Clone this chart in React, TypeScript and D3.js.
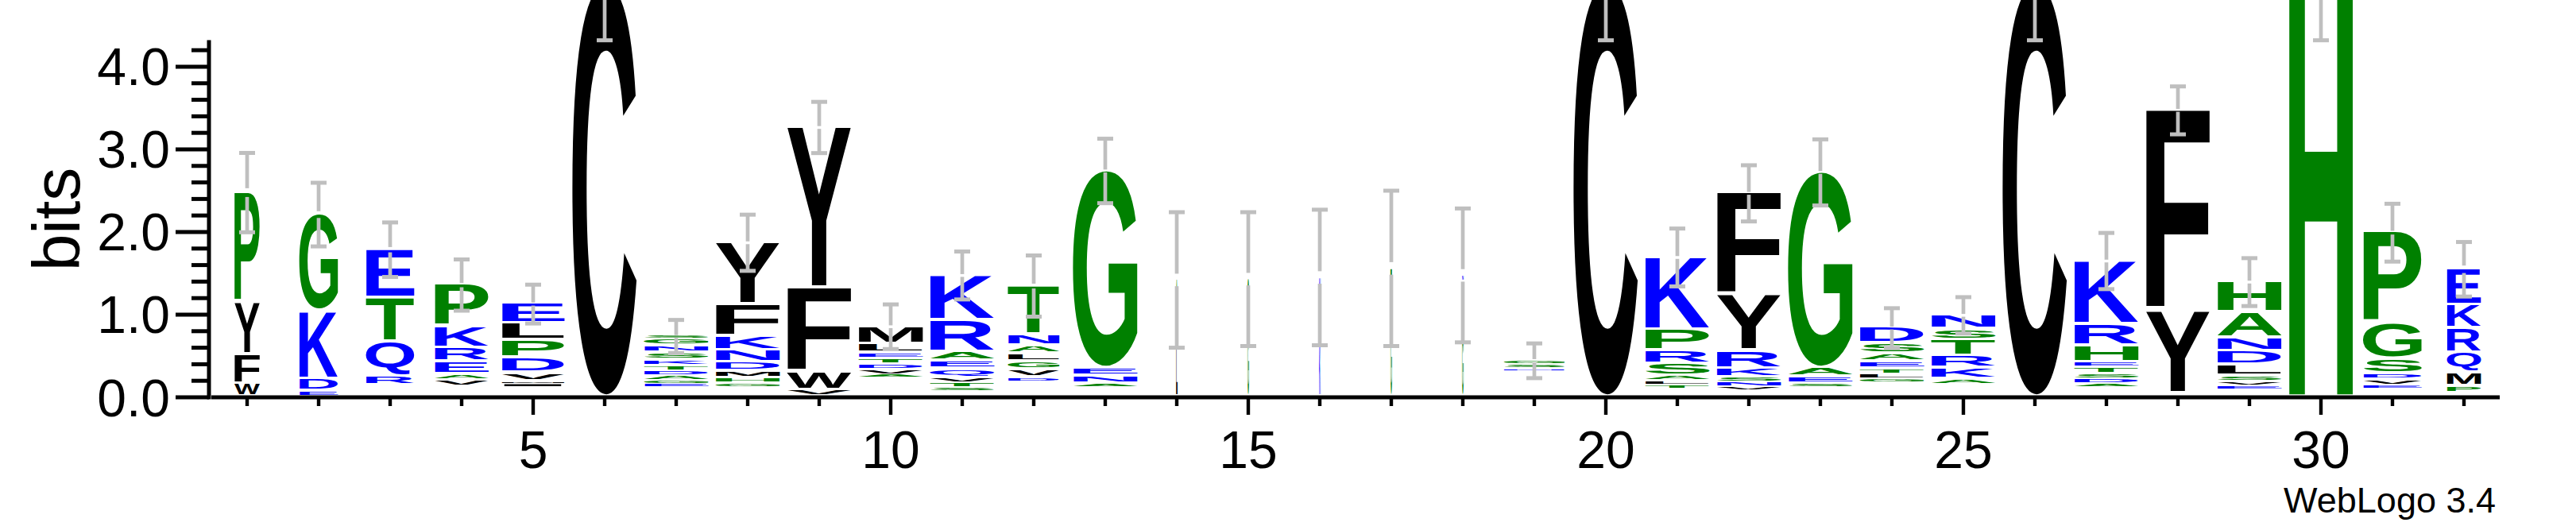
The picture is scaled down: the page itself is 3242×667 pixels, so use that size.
import React, { useMemo } from 'react';
import * as d3 from 'd3';

// Sequence positions 1..32
const positions = [1,2,3,4,5,6,7,8,9,10,11,12,13,14,15,16,17,18,19,20,21,22,23,24,25,26,27,28,29,30,31,32];

// Letters of each stack, bottom to top
const stackLetters: string[][] = [
  ['W','F','Y','P'],
  ['E','D','K','G'],
  ['R','Q','T','E'],
  ['V','A','E','R','K','P'],
  ['I','M','V','D','P','L','E'],
  ['C'],
  ['E','G','A','D','T','K','S','N','G','S'],
  ['G','H','M','D','N','K','F','Y'],
  ['V','W','F','Y'],
  ['A','V','D','T','E','L','M'],
  ['S','T','V','Q','E','A','R','K'],
  ['D','V','G','L','A','N','T'],
  ['A','N','E','G'],
  ['L','A'],
  ['G','S'],
  ['K','N'],
  ['G','T'],
  ['G','S','N'],
  ['N','S','G'],
  ['C'],
  ['T','L','A','S','R','P','K'],
  ['V','N','S','K','R','Y','F'],
  ['S','E','A','G'],
  ['G','L','T','E','A','S','D'],
  ['A','K','R','T','S','N'],
  ['C'],
  ['A','D','S','T','E','H','R','K'],
  ['Y','F'],
  ['E','V','S','L','D','N','A','H'],
  ['H'],
  ['E','V','D','S','G','P'],
  ['P','M','Q','R','K','E'],
];

// Height (bits) of each letter, bottom to top
const stackBits: number[][] = [
  [0.154, 0.356, 0.628, 1.339],
  [0.067, 0.151, 0.823, 1.17],
  [0.11, 0.413, 0.53, 0.593],
  [0.081, 0.07, 0.151, 0.17, 0.262, 0.503],
  [0.043, 0.029, 0.101, 0.186, 0.209, 0.205, 0.24],
  [5.0],
  [0.038, 0.038, 0.064, 0.054, 0.064, 0.074, 0.08, 0.087, 0.089, 0.033],
  [0.051, 0.058, 0.09, 0.102, 0.144, 0.17, 0.385, 0.755],
  [0.08, 0.218, 1.022, 1.945],
  [0.032, 0.064, 0.064, 0.063, 0.074, 0.112, 0.214],
  [0.036, 0.063, 0.067, 0.103, 0.096, 0.113, 0.378, 0.551],
  [0.051, 0.096, 0.093, 0.099, 0.093, 0.135, 0.596],
  [0.038, 0.096, 0.096, 2.394],
  [0.95, 0.47],
  [0.8, 0.63],
  [0.7, 0.75],
  [0.9, 0.66],
  [0.75, 0.635, 0.09],
  [0.029, 0.048, 0.055],
  [5.0],
  [0.045, 0.051, 0.064, 0.144, 0.154, 0.253, 0.885],
  [0.04, 0.054, 0.058, 0.11, 0.212, 0.669, 1.243],
  [0.045, 0.08, 0.106, 2.375],
  [0.046, 0.058, 0.064, 0.089, 0.093, 0.128, 0.192],
  [0.07, 0.138, 0.144, 0.192, 0.128, 0.176],
  [5.0],
  [0.045, 0.054, 0.058, 0.081, 0.063, 0.199, 0.26, 0.774],
  [0.992, 2.436],
  [0.032, 0.048, 0.074, 0.135, 0.166, 0.163, 0.312, 0.368],
  [5.0],
  [0.038, 0.074, 0.07, 0.18, 0.429, 1.105],
  [0.089, 0.161, 0.24, 0.295, 0.282, 0.442],
];

// Bits at which each stack starts
const stackBase = [0, 0, 0.14, 0.121, 0.115, 0, 0.115, 0.115, 0, 0.231, 0.067, 0.183, 0.115, 0, 0, 0, 0, 0, 0.31, 0, 0.096, 0.082, 0.115, 0.168, 0.144, 0, 0.115, 0.044, 0.096, 0, 0.096, 0.04];

// Fraction of full stack width (occupancy)
const stackWidth = [0.395, 0.6, 0.75, 0.84, 0.975, 1, 1, 1, 1, 1, 1, 0.8, 1, 0.021, 0.021, 0.021, 0.021, 0.021, 0.95, 1, 1, 1, 1, 1, 1, 1, 1, 1, 1, 1, 0.91, 0.53];

// Error bar half-length (bits)
const errorBits = [0.48, 0.385, 0.33, 0.31, 0.235, 0.68, 0.2, 0.34, 0.31, 0.27, 0.29, 0.37, 0.39, 0.82, 0.81, 0.82, 0.94, 0.81, 0.21, 0.68, 0.35, 0.34, 0.4, 0.24, 0.22, 0.68, 0.34, 0.29, 0.29, 0.68, 0.35, 0.33];

const yMajorTicks = [0, 1, 2, 3, 4];
const yTickLabels = ['0.0', '1.0', '2.0', '3.0', '4.0'];
const yMinorTicks = [0.2, 0.4, 0.6, 0.8, 1.2, 1.4, 1.6, 1.8, 2.2, 2.4, 2.6, 2.8, 3.2, 3.4, 3.6, 3.8, 4.2];
const xLabeledTicks = [5, 10, 15, 20, 25, 30];

const HYDROPHILIC = 'RKDENQ';
const NEUTRAL = 'SGHTAP';
const colorOf = (ch: string) =>
  HYDROPHILIC.includes(ch) ? '#0000ff' : NEUTRAL.includes(ch) ? '#008000' : '#000000';

const FONT = 'Liberation Sans';

export default function App() {
  const metrics = useMemo(() => {
    const canvas = document.createElement('canvas');
    const ctx = canvas.getContext('2d') as CanvasRenderingContext2D;
    ctx.font = `bold 100px "${FONT}"`;
    const m: Record<string, { l: number; r: number; a: number; d: number }> = {};
    for (const ch of 'ACDEFGHIKLMNPQRSTVWY') {
      const t = ctx.measureText(ch);
      m[ch] = {
        l: t.actualBoundingBoxLeft ?? 0,
        r: t.actualBoundingBoxRight ?? 60,
        a: t.actualBoundingBoxAscent ?? 72,
        d: t.actualBoundingBoxDescent ?? 0,
      };
    }
    return m;
  }, []);

  const width = 3242;
  const height = 667;
  const x = d3.scaleLinear().domain([0.5, 32.5]).range([266, 3146]);
  const y = d3.scaleLinear().domain([0, 4.3219]).range([500, 50.5]);
  const step = x(1.5) - x(0.5);
  const fullW = step * 0.905;

  const letterEls: React.ReactNode[] = [];
  const barEls: React.ReactNode[] = [];

  positions.forEach((pos, i) => {
    const cx = x(pos);
    const w = fullW * stackWidth[i];
    let cum = stackBase[i];
    stackLetters[i].forEach((ch, j) => {
      const hb = stackBits[i][j];
      const yb = y(cum);
      const yt = y(cum + hb);
      cum += hb;
      const hpx = yb - yt;
      const g = Math.min(3.7, hpx * 0.45);
      const inkH = hpx - g;
      const mt = metrics[ch];
      const sx = w / (mt.l + mt.r);
      const sy = inkH / (mt.a + mt.d);
      letterEls.push(
        <text
          key={`l-${i}-${j}`}
          transform={`translate(${cx - w / 2},${yt}) scale(${sx},${sy}) translate(${mt.l},${mt.a})`}
          fontFamily={FONT}
          fontWeight="bold"
          fontSize={100}
          fill={colorOf(ch)}
        >
          {ch}
        </text>
      );
    });
    const top = cum;
    const e = errorBits[i];
    const yTop = y(top);
    const gap = 3.5 + 12.5 * (1 - stackWidth[i]);
    const yHi = y(top + e);
    const yLo = y(top - e);
    barEls.push(
      <g key={`e-${i}`} stroke="#bfbfbf">
        <line x1={cx} x2={cx} y1={yHi} y2={yTop - gap / 2} strokeWidth={4.7} />
        <line x1={cx} x2={cx} y1={yTop + gap / 2} y2={yLo} strokeWidth={4.7} />
        <line x1={cx - 10} x2={cx + 10} y1={yHi} y2={yHi} strokeWidth={5} />
        <line x1={cx - 10} x2={cx + 10} y1={yLo} y2={yLo} strokeWidth={5} />
      </g>
    );
  });

  const axisX = 263;

  return (
    <svg
      width={width}
      height={height}
      style={{ position: 'absolute', left: 0, top: 0, display: 'block', background: '#fff' }}
    >
      <rect x={0} y={0} width={width} height={height} fill="#ffffff" />
      {letterEls}
      {barEls}
      {/* y axis */}
      <g stroke="#000">
        <line x1={axisX} x2={axisX} y1={y(4.3219)} y2={y(0) + 2.5} strokeWidth={5} />
        {yMajorTicks.map((t) => (
          <line key={`ym-${t}`} x1={221} x2={axisX} y1={y(t)} y2={y(t)} strokeWidth={5} />
        ))}
        {yMinorTicks.map((t) => (
          <line key={`yn-${t}`} x1={241} x2={axisX} y1={y(t)} y2={y(t)} strokeWidth={5} />
        ))}
      </g>
      {yMajorTicks.map((t, k) => (
        <text
          key={`yl-${t}`}
          x={214}
          y={y(t) + 23.5}
          textAnchor="end"
          fontFamily={FONT}
          fontSize={66}
          fill="#000"
        >
          {yTickLabels[k]}
        </text>
      ))}
      <text
        transform={`translate(100,276) rotate(-90)`}
        textAnchor="middle"
        fontFamily={FONT}
        fontSize={84}
        fill="#000"
      >
        bits
      </text>
      {/* x axis */}
      <g stroke="#000">
        <line x1={266} x2={3146} y1={500} y2={500} strokeWidth={5} />
        {positions.map((p) => (
          <line
            key={`xt-${p}`}
            x1={x(p)}
            x2={x(p)}
            y1={500}
            y2={xLabeledTicks.includes(p) ? 522 : 511}
            strokeWidth={4.4}
          />
        ))}
      </g>
      {xLabeledTicks.map((p) => (
        <text
          key={`xl-${p}`}
          x={x(p)}
          y={589}
          textAnchor="middle"
          fontFamily={FONT}
          fontSize={66}
          fill="#000"
        >
          {p}
        </text>
      ))}
      <text x={3141} y={645} textAnchor="end" fontFamily={FONT} fontSize={45} fill="#000">
        WebLogo 3.4
      </text>
    </svg>
  );
}
